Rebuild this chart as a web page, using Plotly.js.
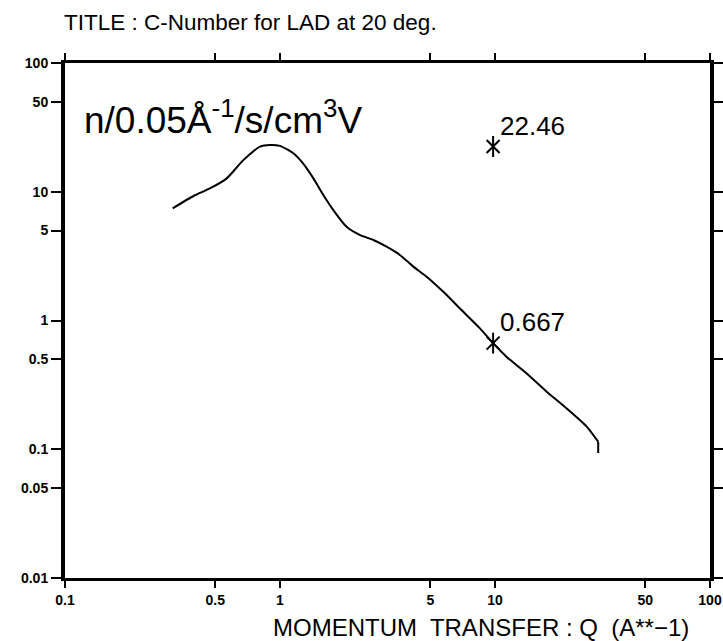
<!DOCTYPE html>
<html>
<head>
<meta charset="utf-8">
<script src="https://cdn.plot.ly/plotly-3.0.1.min.js"></script>
<style>html,body{margin:0;padding:0;background:#fff;}#chart{width:723px;height:641px;}</style>
</head>
<body>
<div id="chart"></div>
<script>
// Momentum transfer Q (A**-1) and C-Number values
const qValues = [0.317, 0.396, 0.472, 0.565, 0.675, 0.807, 0.898, 1.0, 1.153, 1.28, 1.43, 1.59, 1.77, 2.04, 2.36, 2.72, 3.13, 3.61, 4.17, 4.81, 5.75, 6.87, 8.51, 9.8, 11.3, 14.0, 17.4, 21.5, 26.7, 30.2];
const cValues = [7.44, 9.27, 10.6, 12.7, 17.6, 22.4, 23.1, 22.7, 19.9, 16.6, 12.7, 9.43, 7.21, 5.35, 4.61, 4.22, 3.74, 3.23, 2.62, 2.19, 1.67, 1.24, 0.869, 0.667, 0.524, 0.389, 0.280, 0.208, 0.150, 0.1145];
// Short vertical end stroke of the curve
const endQ = [30.2, 30.2];
const endC = [0.1145, 0.0935];
// Marked points (asterisks) and their labels
const markQ = [9.8, 9.8];
const markC = [22.46, 0.667];
const markLabels = ["22.46", "0.667"];
// Tick values / labels
const xTicks = [0.1, 0.5, 1, 5, 10, 50, 100];
const xTickText = ["0.1", "0.5", "1", "5", "10", "50", "100"];
const yTicks = [0.01, 0.05, 0.1, 0.5, 1, 5, 10, 50, 100];
const yTickText = ["0.01", "0.05", "0.1", "0.5", "1", "5", "10", "50", "100"];

const chartTitle = "TITLE : C-Number for LAD at 20 deg.";
const xTitle = "MOMENTUM  TRANSFER : Q  (A**\u22121)";
const unitLabel = "n/0.05Å<sup>-1</sup>/s/cm<sup>3</sup>V";

const font = "Liberation Sans, Arial, sans-serif";

const traces = [
  {x: qValues, y: cValues, mode: "lines", type: "scatter",
   line: {color: "#000", width: 2, shape: "spline", smoothing: 0.6}, hoverinfo: "skip", showlegend: false},
  {x: endQ, y: endC, mode: "lines", type: "scatter",
   line: {color: "#000", width: 2}, hoverinfo: "skip", showlegend: false},
  {x: markQ, y: markC, mode: "markers", type: "scatter",
   marker: {symbol: "x-thin-open", size: 13, color: "#000", line: {color: "#000", width: 2}},
   showlegend: false},
  {x: markQ, y: markC, mode: "markers", type: "scatter",
   marker: {symbol: "line-ns-open", size: 15, color: "#000", line: {color: "#000", width: 2}},
   showlegend: false}
];

const annotations = markLabels.map((t, i) => ({
  x: Math.log10(markQ[i]), y: Math.log10(markC[i]), xref: "x", yref: "y",
  text: t, showarrow: false, xanchor: "left", yanchor: "bottom",
  xshift: 5, yshift: 4, font: {family: font, size: 26, color: "#000"}
}));
annotations.push({
  x: 0.027, y: 0.895, xref: "paper", yref: "paper", text: unitLabel,
  showarrow: false, xanchor: "left", yanchor: "middle",
  font: {family: font, size: 37, color: "#000"}
});
annotations.push({
  x: 0.645, y: -0.097, xref: "paper", yref: "paper", text: xTitle,
  showarrow: false, xanchor: "center", yanchor: "middle",
  font: {family: font, size: 24, color: "#000"}
});

const layout = {
  width: 723, height: 641,
  margin: {l: 65, r: 13, t: 63, b: 63, pad: 0},
  paper_bgcolor: "#fff", plot_bgcolor: "#fff",
  showlegend: false,
  title: {text: chartTitle, xref: "container", yref: "container", x: 0.0885, xanchor: "left",
          y: 0.966, yanchor: "middle", font: {family: font, size: 22.5, color: "#000"}},
  xaxis: {type: "log", range: [-1, 2], tickvals: xTicks, ticktext: xTickText,
          showgrid: false, zeroline: false, showline: true, linecolor: "#000", linewidth: 3,
          mirror: "ticks", ticks: "outside", ticklen: 7, tickwidth: 2, tickcolor: "#000",
          tickfont: {family: font, size: 14, color: "#000", weight: "bold"}},
  yaxis: {type: "log", range: [-2, 2], tickvals: yTicks, ticktext: yTickText,
          showgrid: false, zeroline: false, showline: true, linecolor: "#000", linewidth: 4,
          mirror: "ticks", ticks: "outside", ticklen: 10, tickwidth: 2, tickcolor: "#000",
          tickfont: {family: font, size: 14, color: "#000", weight: "bold"}},
  annotations: annotations
};

Plotly.newPlot("chart", traces, layout, {displayModeBar: false, staticPlot: true});
</script>
</body>
</html>
